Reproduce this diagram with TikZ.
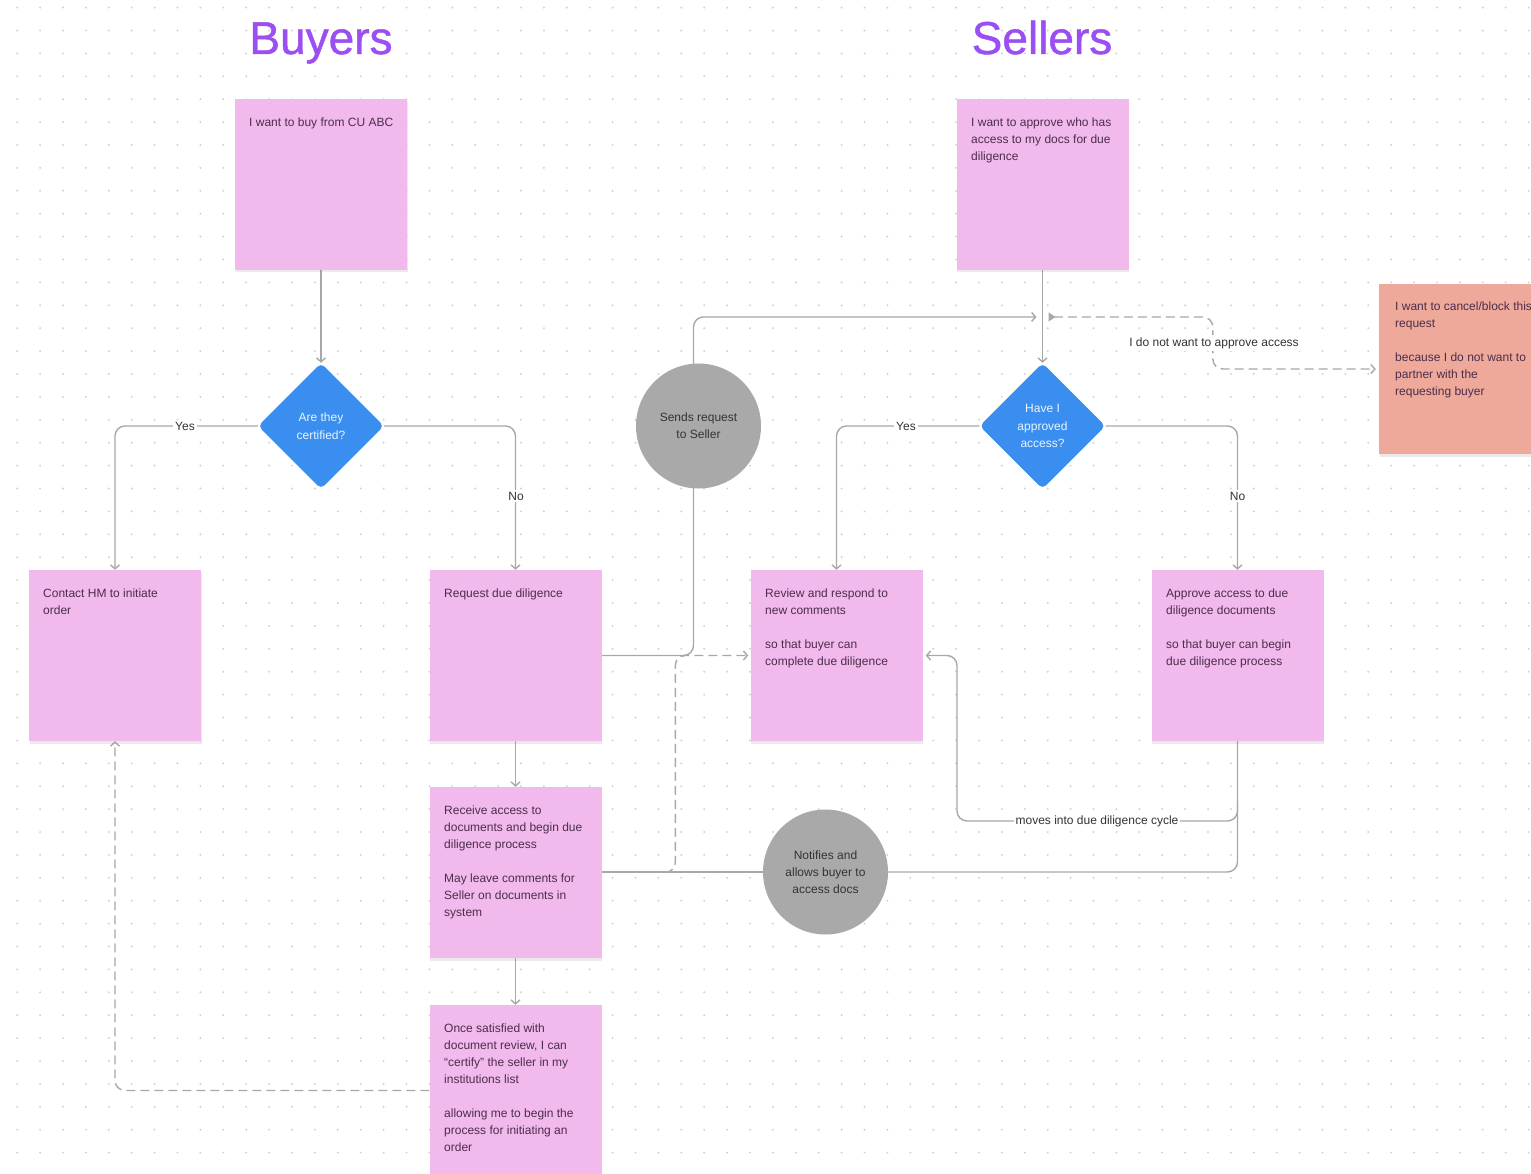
\documentclass[tikz,border=0pt]{standalone}
\usepackage{fontspec}
\setmainfont{Liberation Sans}
\newfontfamily\ttlfont{Liberation Sans}[FakeBold=1]
\usetikzlibrary{arrows.meta,shapes.geometric,shadows,calc}
\definecolor{notepink}{HTML}{F2BAEC}
\definecolor{salmon}{HTML}{EFA99B}
\definecolor{dblue}{HTML}{3A8EF0}
\definecolor{cgray}{HTML}{A9A9A9}
\definecolor{lgray}{HTML}{A8A8A8}
\definecolor{ntext}{HTML}{4B2D49}
\definecolor{ttl}{HTML}{9B4FF2}
\definecolor{dotc}{HTML}{D2D2D2}
\definecolor{ltext}{HTML}{333333}
\pgfdeclarelayer{grid}\pgfdeclarelayer{bg}
\pgfsetlayers{grid,bg,main}
\tikzset{
  note/.style={fill=notepink, minimum width=172pt, minimum height=171pt, inner sep=0pt,
    drop shadow={opacity=0.16, shadow xshift=0.5pt, shadow yshift=-2.5pt}},
  cnote/.style={note, fill=salmon, minimum height=170pt},
  ntxt/.style={anchor=north west, inner sep=0pt, align=left, text=ntext, font=\fontsize{12}{17}\selectfont},
  dia/.style={diamond, aspect=1, fill=dblue, minimum width=126pt, minimum height=126pt, inner sep=0pt,
    rounded corners=5pt, align=center, text=white!90!dblue, font=\fontsize{12}{17.5}\selectfont},
  circ/.style={circle, fill=cgray, minimum size=125pt, inner sep=0pt, align=center, text=ltext,
    font=\fontsize{12}{17}\selectfont},
  lbl/.style={fill=white, inner sep=2pt, text=ltext, font=\fontsize{12}{14}\selectfont},
  ttlstyle/.style={text=ttl, font=\ttlfont\fontsize{46}{50}\selectfont, inner sep=0pt, anchor=base},
  conn/.style={draw=lgray, line width=1.4pt, rounded corners=10pt, -{Straight Barb[length=4pt,width=9pt]}},
  plain/.style={draw=lgray, line width=1.4pt, rounded corners=10pt},
  dconn/.style={conn, dash pattern=on 9pt off 5pt},
}
\begin{document}
\begin{tikzpicture}[x=1pt, y=-1pt]
\useasboundingbox (0,0) rectangle (1531,1174);
\begin{pgfonlayer}{grid}
  \fill[white] (0,0) rectangle (1531,1174);
  \foreach \i in {0,...,66} \foreach \j in {0,...,51}
    \fill[dotc] (17.2+22.9*\i, 7.6+22.9*\j) circle (1.1pt);
\end{pgfonlayer}
\clip (0,0) rectangle (1531,1174);

% titles
\node[ttlstyle] (tbuy) at (321,54) {Buyers};
\node[ttlstyle] (tsell) at (1042,54) {Sellers};

% notes
\node[note] (n1) at (321,184.5) {};
\node[ntxt] (n1t) at (249,118) {I want to buy from CU ABC};
\node[note] (n2) at (1042.5,184.5) {};
\node[ntxt] (n2t) at (971,118) {I want to approve who has\\access to my docs for due\\diligence};
\node[note] (contact) at (115,655.5) {};
\node[ntxt] (contactt) at (43,589) {Contact HM to initiate\\order};
\node[note] (request) at (515.5,655.5) {};
\node[ntxt] (requestt) at (444,589) {Request due diligence};
\node[note] (review) at (836.5,655.5) {};
\node[ntxt] (reviewt) at (765,589) {Review and respond to\\new comments\\[17pt]so that buyer can\\complete due diligence};
\node[note] (approve) at (1237.5,655.5) {};
\node[ntxt] (approvet) at (1166,589) {Approve access to due\\diligence documents\\[17pt]so that buyer can begin\\due diligence process};
\node[note] (receive) at (515.5,872.5) {};
\node[ntxt] (receivet) at (444,806) {Receive access to\\documents and begin due\\diligence process\\[17pt]May leave comments for\\Seller on documents in\\system};
\node[note] (once) at (515.5,1090.5) {};
\node[ntxt] (oncet) at (444,1024) {Once satisfied with\\document review, I can\\“certify” the seller in my\\institutions list\\[17pt]allowing me to begin the\\process for initiating an\\order};
\node[cnote] (cancel) at (1465,369) {};
\node[ntxt] (cancelt) at (1395,302) {I want to cancel/block this\\request\\[17pt]because I do not want to\\partner with the\\requesting buyer};

% decisions and actions
\node[dia] (d1) at (321,426) {Are they\\certified?};
\node[dia] (d2) at (1042.5,426) {Have I\\approved\\access?};
\node[circ] (circ1) at (698.5,426) {Sends request\\to Seller};
\node[circ] (circ2) at (825.5,872) {Notifies and\\allows buyer to\\access docs};

\coordinate (j1) at ($(n2.south)!0.505!(d2.north)$);
\coordinate (j2) at ($(approve.south)+(0,-60pt)$);
\coordinate (j3) at ($(receive.east)!0.4!(circ2.west)$);

\begin{pgfonlayer}{bg}
  \draw[conn] (n1.south) -- (d1.north);
  \draw[conn] (d1.west) -| (contact.north);
  \draw[conn] (d1.east) -| (request.north);
  \draw[conn] (request.east) -| ($(circ1.south)+(-5pt,0)$) |- ([xshift=-6pt]j1);
  \draw[conn] (n2.south) -- (d2.north);
  \draw[dconn, {Triangle[reversed,length=7pt,width=9pt]}-{Straight Barb[length=4pt,width=9pt]}]
    ([xshift=6pt]j1) -| ($(cancel.west)+(-166pt,0)$) -- ([xshift=-3pt]cancel.west);
  \draw[conn] (d2.west) -| (review.north);
  \draw[conn] (d2.east) -| (approve.north);
  \draw[plain] (approve.south) |- (circ2.east);
  \draw[plain] (circ2.west) -- (receive.east |- circ2.west);
  \draw[conn] (j2) |- (957,821) |- ([xshift=3pt]review.east);
  \draw[dconn] (j3) -| ($(review.west)+(-75pt,0)$) -- ([xshift=-2pt]review.west);
  \draw[conn] (request.south) -- (receive.north);
  \draw[conn] (receive.south) -- (once.north);
  \draw[dconn] (once.west) -| (contact.south);
\end{pgfonlayer}

% connector labels
\node[lbl] (lyes1) at (185,426) {Yes};
\node[lbl] (lno1) at (516,496) {No};
\node[lbl] (lyes2) at (906,426) {Yes};
\node[lbl] (lno2) at (1237.5,496) {No};
\node[lbl] (lnot) at (1214,343) {I do not want to approve access};
\node[lbl] (lmove) at (1097,821) {moves into due diligence cycle};
\end{tikzpicture}
\end{document}
